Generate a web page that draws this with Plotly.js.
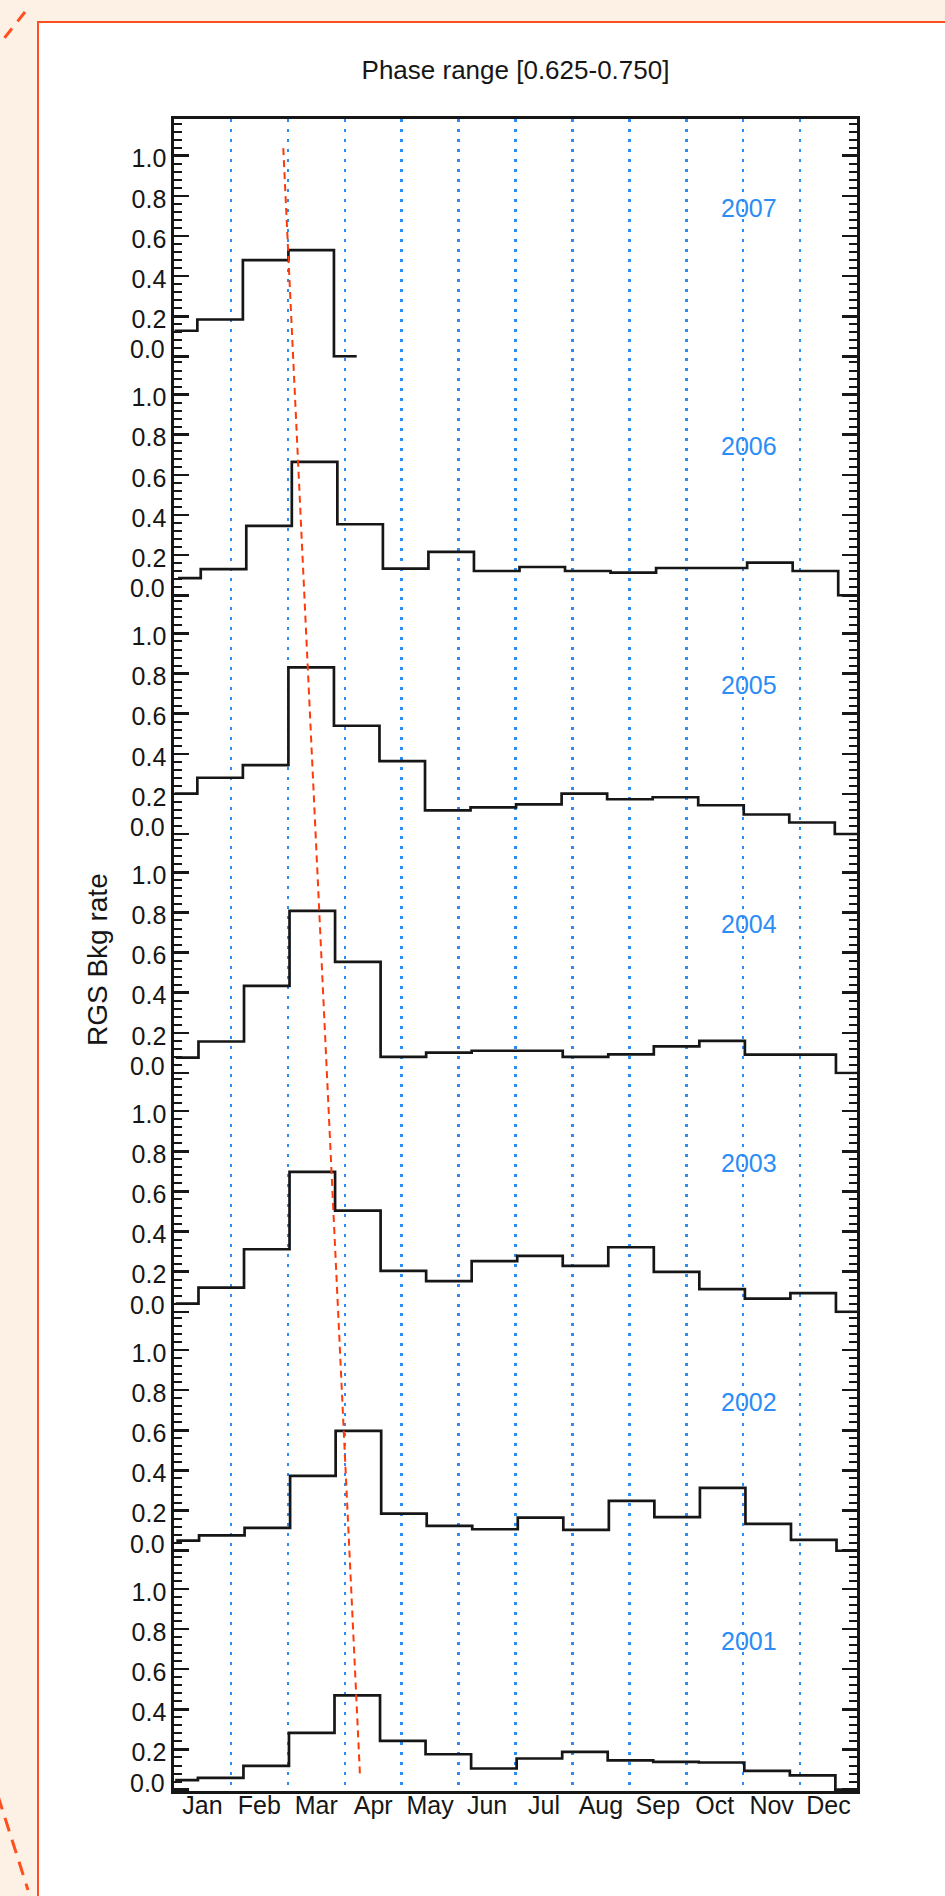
<!DOCTYPE html>
<html>
<head>
<meta charset="utf-8">
<script src="https://cdn.plot.ly/plotly-3.0.1.min.js"></script>
<style>
html,body{margin:0;padding:0;background:#fdf0e4;}
#chart{width:945px;height:1896px;}
</style>
</head>
<body>
<div id="chart"></div>
<script>
// ---- data ----
const months = ['Jan','Feb','Mar','Apr','May','Jun','Jul','Aug','Sep','Oct','Nov','Dec'];
const years = [2007, 2006, 2005, 2004, 2003, 2002, 2001];
const yTickVals = [0, 0.2, 0.4, 0.6, 0.8, 1.0];
const yTickText = ['', '0.2', '0.4', '0.6', '0.8', '1.0'];

// bin centres (month units) and background rate per bin
const x2007 = [0.01, 0.81, 1.61, 2.41, 3.21];
const v2007 = [0.128, 0.184, 0.480, 0.530, 0.0];
const x2006 = [0.07, 0.87, 1.67, 2.47, 3.27, 4.07, 4.87, 5.67, 6.47, 7.27, 8.07, 8.87, 9.67, 10.47, 11.27, 12.07];
const v2006 = [0.086, 0.130, 0.346, 0.665, 0.354, 0.133, 0.216, 0.121, 0.141, 0.121, 0.113, 0.136, 0.136, 0.163, 0.121, 0.0];
const x2005 = [0.01, 0.81, 1.61, 2.41, 3.21, 4.01, 4.81, 5.61, 6.41, 7.21, 8.01, 8.81, 9.61, 10.41, 11.21, 12.01];
const v2005 = [0.202, 0.281, 0.344, 0.831, 0.540, 0.364, 0.119, 0.133, 0.148, 0.202, 0.174, 0.184, 0.144, 0.098, 0.058, 0.0];
const x2004 = [0.03, 0.83, 1.63, 2.43, 3.23, 4.03, 4.83, 5.63, 6.43, 7.23, 8.03, 8.83, 9.63, 10.43, 11.23, 12.03];
const v2004 = [0.077, 0.157, 0.434, 0.808, 0.554, 0.080, 0.102, 0.111, 0.111, 0.080, 0.093, 0.133, 0.160, 0.092, 0.092, 0.0];
const x2003 = [0.03, 0.83, 1.63, 2.43, 3.23, 4.03, 4.83, 5.63, 6.43, 7.23, 8.03, 8.83, 9.63, 10.43, 11.23, 12.03];
const v2003 = [0.041, 0.121, 0.312, 0.698, 0.504, 0.204, 0.153, 0.253, 0.279, 0.229, 0.322, 0.199, 0.113, 0.066, 0.093, 0.0];
const x2002 = [0.04, 0.84, 1.64, 2.44, 3.24, 4.04, 4.84, 5.64, 6.44, 7.24, 8.04, 8.84, 9.64, 10.44, 11.24, 12.04];
const v2002 = [0.050, 0.077, 0.114, 0.373, 0.597, 0.185, 0.124, 0.107, 0.165, 0.104, 0.248, 0.167, 0.313, 0.134, 0.054, 0.0];
const x2001 = [0.02, 0.82, 1.62, 2.42, 3.22, 4.02, 4.82, 5.62, 6.42, 7.22, 8.02, 8.82, 9.62, 10.42, 11.22, 12.02];
const v2001 = [0.047, 0.058, 0.118, 0.283, 0.469, 0.243, 0.176, 0.105, 0.155, 0.188, 0.146, 0.138, 0.135, 0.093, 0.071, 0.0];

// red dashed drift line: month vs. stacked-panel position (0 = bottom of 2001, 7 = top of 2007)
const driftMonth = [1.92, 3.27];
const driftPos = [6.878, 0.053];

const seriesX = [x2007, x2006, x2005, x2004, x2003, x2002, x2001];
const seriesV = [v2007, v2006, v2005, v2004, v2003, v2002, v2001];

// ---- styling / layout ----
const W = 945, H = 1896;
const PL = 174, PR = 857, PT = 119, PB = 1791;
const pw = PR - PL, ph = PB - PT;
const px = x => (x - PL) / pw;
const py = y => (PB - y) / ph;

const ink = '#161616';
const blue = '#2b8df5';
const red = '#ff3a0a';
const FONT = 'Liberation Sans, Arial, Helvetica, sans-serif';
const nP = years.length;
const yMax = 1.19;

const monthCenters = months.map((m, i) => i + 0.5);
const monthEdges = months.slice(1).map((m, i) => i + 1);

const data = [];
const layout = {
  width: W, height: H,
  margin: {l: PL, r: W - PR, t: PT, b: H - PB, pad: 0},
  paper_bgcolor: '#fdf0e4',
  plot_bgcolor: 'rgba(0,0,0,0)',
  showlegend: false,
  font: {family: FONT, size: 25, color: ink},
  title: {
    text: 'Phase range [0.625-0.750]',
    font: {family: FONT, size: 26, color: ink},
    x: 0.5, xref: 'paper', xanchor: 'center',
    y: 1 - 70 / H, yref: 'container', yanchor: 'middle'
  },
  annotations: [],
  shapes: [
    {type: 'rect', xref: 'paper', yref: 'paper', layer: 'below',
     x0: px(38), x1: px(980), y0: py(1930), y1: py(22),
     fillcolor: '#ffffff', line: {color: '#ff4f1f', width: 2}},
    {type: 'line', xref: 'paper', yref: 'paper', layer: 'below',
     x0: px(25), y0: py(12), x1: px(-2), y1: py(46),
     line: {color: '#ff4f1f', width: 3, dash: '12px,9px'}},
    {type: 'line', xref: 'paper', yref: 'paper', layer: 'below',
     x0: px(-2), y0: py(1796), x1: px(28), y1: py(1890),
     line: {color: '#ff4f1f', width: 3, dash: '14px,9px'}}
  ]
};

years.forEach((yr, p) => {
  const n = p + 1;
  const sfx = n === 1 ? '' : String(n);
  const dom = [1 - (p + 1) / nP, 1 - p / nP];
  const isTop = p === 0, isBottom = p === nP - 1;

  data.push({
    type: 'scatter', mode: 'lines',
    x: seriesX[p], y: seriesV[p],
    xaxis: 'x' + sfx, yaxis: 'y' + sfx,
    line: {shape: 'hvh', color: ink, width: 2.7},
    hoverinfo: 'skip'
  });

  layout['xaxis' + sfx] = {
    domain: [0, 1], range: [0, 12], anchor: 'y' + sfx,
    side: isTop ? 'top' : 'bottom',
    showline: isTop || isBottom, linecolor: ink, linewidth: 2.7,
    showgrid: false, zeroline: false, ticks: '',
    tickmode: 'array',
    tickvals: isBottom ? monthCenters : [],
    ticktext: isBottom ? months : [],
    showticklabels: isBottom,
    ticklabelstandoff: -10,
    tickfont: {family: FONT, size: 25, color: ink},
    minor: {tickmode: 'array', tickvals: monthEdges, showgrid: true,
            gridcolor: blue, gridwidth: 2.5, griddash: '3px,7px', ticks: ''},
    fixedrange: true
  };
  layout['yaxis' + sfx] = {
    domain: dom, range: [-0.007, yMax - 0.007], anchor: 'x' + sfx,
    showline: true, mirror: 'ticks', linecolor: ink, linewidth: 2.7,
    showgrid: false, zeroline: false,
    ticks: 'inside', ticklen: 15, tickwidth: 2.5, tickcolor: ink,
    tickmode: 'array', tickvals: yTickVals, ticktext: yTickText,
    tickfont: {family: FONT, size: 25, color: ink},
    ticklabelshift: 3,
    minor: {tickmode: 'linear', tick0: 0, dtick: 0.04, ticks: 'inside',
            ticklen: 8, tickwidth: 2, tickcolor: ink, showgrid: false},
    fixedrange: true
  };

  layout.annotations.push({
    xref: 'x' + sfx, yref: 'y' + sfx, x: 10.1, y: 0.742,
    text: String(yr), showarrow: false, xanchor: 'center', yanchor: 'middle',
    font: {family: FONT, size: 25, color: blue}
  });
  layout.annotations.push({
    xref: 'paper', yref: 'y' + sfx, x: px(167), y: 0, yshift: 7,
    text: '0.0', showarrow: false, xanchor: 'right', yanchor: 'middle',
    font: {family: FONT, size: 25, color: ink}
  });
});

// overlay for the drift line spanning all panels
layout.xaxis8 = {domain: [0, 1], range: [0, 12], anchor: 'y8', visible: false, fixedrange: true};
layout.yaxis8 = {domain: [0, 1], range: [0, nP], anchor: 'x8', visible: false, fixedrange: true};
data.push({
  type: 'scatter', mode: 'lines', x: driftMonth, y: driftPos,
  xaxis: 'x8', yaxis: 'y8',
  line: {color: red, width: 2, dash: '7px,5px'}, hoverinfo: 'skip'
});

layout.annotations.push({
  xref: 'paper', yref: 'paper', x: px(97), y: 0.497,
  text: 'RGS Bkg rate', textangle: -90, showarrow: false,
  xanchor: 'center', yanchor: 'middle',
  font: {family: FONT, size: 28, color: ink}
});

Plotly.newPlot('chart', data, layout, {staticPlot: true, displayModeBar: false});
</script>
</body>
</html>
